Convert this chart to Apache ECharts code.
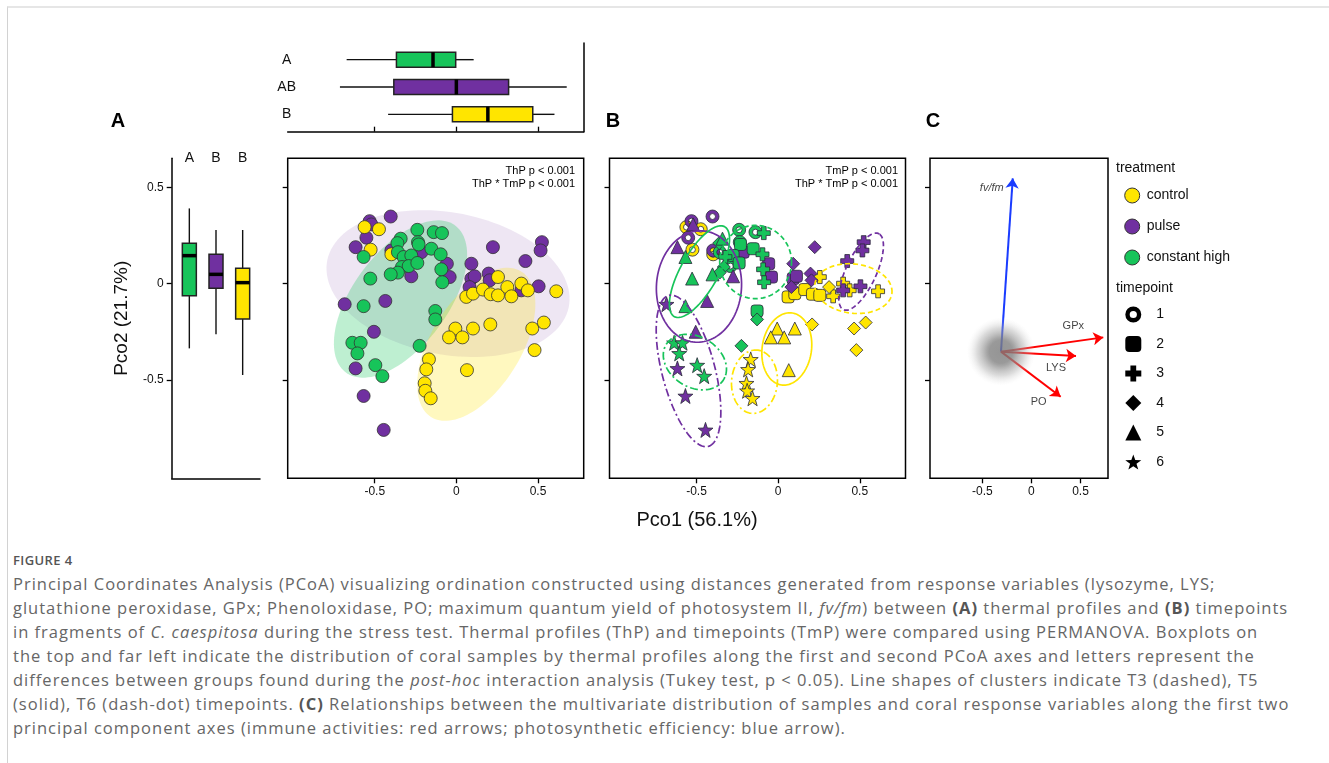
<!DOCTYPE html>
<html>
<head>
<meta charset="utf-8">
<script src="https://cdn.jsdelivr.net/npm/echarts@6/dist/echarts.min.js"></script>
<style>
  html, body { margin: 0; padding: 0; background: #fff; }
  #frame { position: absolute; left: 7px; top: 6px; width: 1340px; height: 780px;
           border-top: 2px solid #e6e6e6; border-left: 1px solid #d2d2d2; }
  #chart { position: absolute; left: 0; top: 0; width: 1329px; height: 545px; }
  #cap { position: absolute; left: 13px; top: 0; font-family: 'Open Sans', sans-serif; color: #666; }
  #cap div { position: absolute; left: 0; white-space: nowrap; }
  #cap .ln { font-size: 16.5px; line-height: 24px; letter-spacing: 1px; }
  #cap .fig { font-size: 13px; line-height: 18px; font-weight: 600; color: #555; letter-spacing: 0.4px; }
  #cap b { color: #555; }
</style>
</head>
<body>
<div id="frame"></div>
<div id="chart"></div>
<div id="cap">
  <div class="fig" style="top:551px">FIGURE 4</div>
  <div class="ln" style="top:572px">Principal Coordinates Analysis (PCoA) visualizing ordination constructed using distances generated from response variables (lysozyme, LYS;</div>
  <div class="ln" style="top:596px">glutathione peroxidase, GPx; Phenoloxidase, PO; maximum quantum yield of photosystem II, <i>fv/fm</i>) between <b>(A)</b> thermal profiles and <b>(B)</b> timepoints</div>
  <div class="ln" style="top:620px">in fragments of <i>C. caespitosa</i> during the stress test. Thermal profiles (ThP) and timepoints (TmP) were compared using PERMANOVA. Boxplots on</div>
  <div class="ln" style="top:644px">the top and far left indicate the distribution of coral samples by thermal profiles along the first and second PCoA axes and letters represent the</div>
  <div class="ln" style="top:668px">differences between groups found during the <i>post-hoc</i> interaction analysis (Tukey test, p &lt; 0.05). Line shapes of clusters indicate T3 (dashed), T5</div>
  <div class="ln" style="top:692px">(solid), T6 (dash-dot) timepoints. <b>(C)</b> Relationships between the multivariate distribution of samples and coral response variables along the first two</div>
  <div class="ln" style="top:716px">principal component axes (immune activities: red arrows; photosynthetic efficiency: blue arrow).</div>
</div>
<script>
// ---- data ----
const treatNames = ['control', 'pulse', 'constant high'];
const timeNames = ['1', '2', '3', '4', '5', '6'];

// [Pco1, Pco2, timepoint]
const controlPts = [
  [-0.562, 0.293, 1], [-0.474, 0.282, 1], [-0.525, 0.176, 1], [-0.398, 0.152, 1],
  [0.255, 0.034, 3], [0.061, -0.069, 2], [0.102, -0.052, 2], [0.163, -0.031, 2], [0.21, -0.055, 2], [0.255, -0.061, 2],
  [0.312, -0.018, 4], [0.337, -0.066, 3], [0.398, 0, 3], [0.438, -0.035, 3], [0.612, -0.04, 3],
  [-0.006, -0.233, 5], [0.102, -0.233, 5], [0.208, -0.212, 4], [-0.045, -0.279, 5], [0.037, -0.279, 5],
  [0.465, -0.233, 4], [0.536, -0.202, 4], [0.479, -0.345, 4],
  [-0.168, -0.393, 6], [-0.184, -0.445, 6], [0.065, -0.449, 5], [-0.194, -0.517, 6], [-0.19, -0.556, 6], [-0.157, -0.595, 6]
];
const pulsePts = [
  [-0.402, 0.348, 1], [-0.531, 0.324, 1], [-0.521, 0.307, 5], [-0.551, 0.238, 1], [-0.617, 0.189, 5],
  [0.224, 0.189, 4], [0.524, 0.215, 3], [0.516, 0.172, 3], [0.423, 0.117, 3], [0.092, 0.103, 4],
  [-0.058, 0.103, 2], [-0.041, 0.034, 2], [-0.276, 0.038, 5], [-0.398, 0.172, 1], [-0.214, 0.163, 2],
  [0.092, 0.026, 2], [0.112, 0.038, 2], [0.198, 0.052, 4], [0.204, 0.017, 4], [0.081, -0.018, 4],
  [0.398, -0.035, 3], [0.504, -0.014, 3], [-0.684, -0.107, 6], [-0.435, -0.09, 5], [-0.505, -0.25, 5],
  [-0.617, -0.44, 6], [-0.568, -0.583, 6], [-0.445, -0.759, 6]
];
const highPts = [
  [-0.239, 0.279, 1], [-0.139, 0.267, 1], [-0.088, 0.262, 3], [-0.341, 0.233, 5], [-0.361, 0.21, 4],
  [-0.235, 0.215, 1], [-0.231, 0.203, 2], [-0.153, 0.181, 2], [-0.096, 0.152, 3], [-0.358, 0.163, 1],
  [-0.323, 0.138, 3], [-0.276, 0.146, 2], [-0.333, 0.086, 4], [-0.292, 0.091, 1], [-0.239, 0.107, 2],
  [-0.568, 0.138, 5], [-0.092, 0.074, 3], [-0.358, 0.057, 4], [-0.402, 0.048, 5], [-0.527, 0.026, 5],
  [-0.086, 0.007, 3], [-0.568, -0.117, 5], [-0.129, -0.142, 2], [-0.129, -0.186, 4], [-0.225, -0.323, 4],
  [-0.637, -0.307, 6], [-0.586, -0.307, 6], [-0.606, -0.362, 6], [-0.496, -0.423, 6], [-0.453, -0.48, 6]
];

// ellipses: [cx, cy, semi-axis a, semi-axis b, angle deg, treatment idx, line type (0 dashed T3, 1 solid T5, 2 dash-dot T6)]
const ellipsesA = [
  [-0.051, 0, 0.75, 0.37, -8, 1, 1],
  [-0.342, -0.08, 0.51, 0.27, 45, 2, 1],
  [0.122, -0.315, 0.47, 0.26, 50, 0, 1]
];
const ellipsesB = [
  [-0.485, -0.015, 0.29, 0.26, 80, 1, 1],
  [-0.482, 0.062, 0.28, 0.11, 55, 2, 1],
  [-0.138, 0.112, 0.22, 0.19, 0, 2, 0],
  [0.508, 0.062, 0.225, 0.09, 60, 1, 0],
  [0.461, -0.026, 0.237, 0.128, -5, 0, 0],
  [0.053, -0.339, 0.19, 0.15, 75, 0, 1],
  [-0.145, -0.509, 0.165, 0.14, 80, 0, 2],
  [-0.51, -0.407, 0.2, 0.135, -20, 2, 2],
  [-0.549, -0.453, 0.41, 0.16, -72, 1, 2]
];

// boxplots, groups: constant high, pulse, control ; [low, q1, median, q3, high]
const boxGroups = [2, 1, 0];
const pco1Stats = [[-0.672, -0.367, -0.143, -0.004, 0.106], [-0.713, -0.383, 0, 0.32, 0.676], [-0.418, -0.024, 0.193, 0.468, 0.601]];
const pco1Letters = ['A', 'AB', 'B'];
const pco2Stats = [[-0.336, -0.063, 0.145, 0.209, 0.39], [-0.263, -0.024, 0.048, 0.152, 0.278], [-0.474, -0.184, 0.005, 0.079, 0.278]];
const pco2Letters = ['A', 'B', 'B'];

// response variable vectors (panel C)
const vecNames = ['fv/fm', 'GPx', 'LYS', 'PO'];
const vecOrigin = [-0.31, -0.353];
const vecEndX = [-0.19, 0.732, 0.454, 0.298];
const vecEndY = [0.546, -0.279, -0.376, -0.587];
const vecKind = ['photo', 'immune', 'immune', 'immune'];

const xTicks = [-0.5, 0, 0.5];
const yTicks = [-0.5, 0, 0.5];

// ---- styles ----
const X_MIN = -1.033, X_MAX = 0.78, Y_MIN = -1.01, Y_MAX = 0.65;
const FONT = '"Liberation Sans", Arial, sans-serif';
const treatColors = ['#FFE500', '#7030A0', '#17C45A'];
const ellipseFills = ['rgba(255,229,0,0.25)', 'rgba(112,48,160,0.12)', 'rgba(23,196,90,0.28)'];
const dashStyles = [[5, 3], null, [8, 3, 2, 3]];
const ringPath = 'path://M0,-10A10,10,0,1,1,0,10A10,10,0,1,1,0,-10ZM0,-4.5A4.5,4.5,0,1,0,0,4.5A4.5,4.5,0,1,0,0,-4.5Z';
const plusPath = 'path://M-3.6,-10H3.6V-3.6H10V3.6H3.6V10H-3.6V3.6H-10V-3.6H-3.6Z';
const starPath = 'path://M0,-10L2.35,-3.24L9.51,-3.09L3.8,1.24L5.88,8.09L0,4L-5.88,8.09L-3.8,1.24L-9.51,-3.09L-2.35,-3.24Z';
const timeSymbols = [ringPath, 'roundRect', plusPath, 'diamond', 'triangle', starPath];
const timeSizes = [13, 12, 13, 13, 13, 15];
const vecLabelOffsets = [[-21, 10], [-30, -11], [-20, 12], [-22, 5]];

const allPts = [controlPts, pulsePts, highPts];

function ellipseRender(filled) {
  return function (params, api) {
    const cx = api.value(0), cy = api.value(1), a = api.value(2), b = api.value(3);
    const ang = api.value(4) * Math.PI / 180, tr = api.value(5), ls = api.value(6);
    const pts = [];
    for (let k = 0; k < 120; k++) {
      const t = k / 120 * Math.PI * 2;
      const ex = a * Math.cos(t), ey = b * Math.sin(t);
      pts.push(api.coord([cx + ex * Math.cos(ang) - ey * Math.sin(ang), cy + ex * Math.sin(ang) + ey * Math.cos(ang)]));
    }
    if (filled) {
      return { type: 'polygon', shape: { points: pts }, style: { fill: ellipseFills[tr], stroke: null } };
    }
    return { type: 'polygon', shape: { points: pts },
      style: { fill: null, stroke: treatColors[tr], lineWidth: 1.7, lineDash: dashStyles[ls] } };
  };
}

function boxRender(horizontal) {
  return function (params, api) {
    const c = api.value(0);
    const p = [1, 2, 3, 4, 5].map(d => horizontal ? api.coord([api.value(d), c]) : api.coord([c, api.value(d)]));
    const col = treatColors[boxGroups[c]];
    const h = horizontal ? 7.5 : 7;
    const line = { stroke: '#111', lineWidth: 1.4 };
    if (horizontal) {
      const y = p[0][1];
      return { type: 'group', children: [
        { type: 'line', shape: { x1: p[0][0], y1: y, x2: p[1][0], y2: y }, style: line },
        { type: 'line', shape: { x1: p[3][0], y1: y, x2: p[4][0], y2: y }, style: line },
        { type: 'rect', shape: { x: p[1][0], y: y - h, width: p[3][0] - p[1][0], height: 2 * h }, style: { fill: col, stroke: '#222', lineWidth: 1.5 } },
        { type: 'line', shape: { x1: p[2][0], y1: y - h, x2: p[2][0], y2: y + h }, style: { stroke: '#000', lineWidth: 3.5 } }
      ] };
    }
    const x = p[0][0];
    return { type: 'group', children: [
      { type: 'line', shape: { x1: x, y1: p[0][1], x2: x, y2: p[1][1] }, style: line },
      { type: 'line', shape: { x1: x, y1: p[3][1], x2: x, y2: p[4][1] }, style: line },
      { type: 'rect', shape: { x: x - h, y: p[3][1], width: 2 * h, height: p[1][1] - p[3][1] }, style: { fill: col, stroke: '#222', lineWidth: 1.5 } },
      { type: 'line', shape: { x1: x - h, y1: p[2][1], x2: x + h, y2: p[2][1] }, style: { stroke: '#000', lineWidth: 3.5 } }
    ] };
  };
}

const hidden = { show: false };
function panelX(grid, labels) {
  return {
    type: 'value', gridIndex: grid, min: X_MIN, max: X_MAX, position: 'bottom',
    axisLine: { show: false, onZero: false },
    axisTick: { show: true, length: 5, customValues: xTicks, lineStyle: { color: '#000', width: 1.3 } },
    axisLabel: { show: labels, customValues: xTicks, fontSize: 12, color: '#111', margin: 7, fontFamily: FONT },
    splitLine: hidden
  };
}
function panelY(grid) {
  return {
    type: 'value', gridIndex: grid, min: Y_MIN, max: Y_MAX,
    axisLine: { show: false, onZero: false },
    axisTick: { show: true, length: 5, customValues: yTicks, lineStyle: { color: '#000', width: 1.3 } },
    axisLabel: { show: false }, splitLine: hidden
  };
}

const frameGrid = { show: true, borderColor: '#000', borderWidth: 1.5, backgroundColor: 'transparent', containLabel: false };

const option = {
  animation: false,
  textStyle: { fontFamily: FONT },
  grid: [
    { left: 287.7, top: 43, width: 296, height: 88.7 },            // 0 top box axes
    { left: 287.7, top: 46, width: 296, height: 82 },              // 1 top boxes
    { left: 171.7, top: 158.3, width: 88.3, height: 320.7 },       // 2 left box axes
    { left: 176, top: 158.3, width: 80, height: 320 },             // 3 left boxes
    Object.assign({ left: 287.7, top: 158.3, width: 296, height: 320 }, frameGrid), // 4 A
    Object.assign({ left: 609.5, top: 158.3, width: 296, height: 320 }, frameGrid), // 5 B
    Object.assign({ left: 930, top: 158.3, width: 178, height: 320 }, frameGrid)    // 6 C
  ],
  xAxis: [
    { type: 'value', gridIndex: 0, min: X_MIN, max: X_MAX, position: 'bottom',
      axisLine: { show: true, onZero: false, lineStyle: { color: '#000', width: 1.5 } },
      axisTick: { show: true, inside: true, length: 5, customValues: xTicks, lineStyle: { color: '#000', width: 1.3 } },
      axisLabel: { show: false }, splitLine: hidden },
    { type: 'value', gridIndex: 1, min: X_MIN, max: X_MAX, show: false },
    { type: 'value', gridIndex: 2, min: 0, max: 1, position: 'bottom',
      axisLine: { show: true, onZero: false, lineStyle: { color: '#000', width: 1.5 } },
      axisTick: { show: false }, axisLabel: { show: false }, splitLine: hidden },
    { type: 'category', gridIndex: 3, data: boxGroups.map(i => treatNames[i]), show: false },
    { type: 'category', gridIndex: 3, data: boxGroups.map(i => treatNames[i]), position: 'top',
      axisLine: { show: false }, axisTick: { show: false },
      axisLabel: { formatter: (v, i) => pco2Letters[i], margin: 0, verticalAlign: 'middle', fontSize: 14, color: '#111' } },
    panelX(4, true),
    panelX(5, true),
    panelX(6, true)
  ],
  yAxis: [
    { type: 'value', gridIndex: 0, min: 0, max: 1, position: 'right',
      axisLine: { show: true, onZero: false, lineStyle: { color: '#000', width: 1.5 } },
      axisTick: { show: false }, axisLabel: { show: false }, splitLine: hidden },
    { type: 'category', gridIndex: 1, data: pco1Letters, inverse: true,
      axisLine: { show: false }, axisTick: { show: false },
      axisLabel: { align: 'center', margin: 1, fontSize: 14, color: '#111' } },
    { type: 'value', gridIndex: 2, show: false },
    { type: 'value', gridIndex: 3, min: Y_MIN, max: Y_MAX, offset: 4.3,
      axisLine: { show: true, onZero: false, lineStyle: { color: '#000', width: 1.5 } },
      axisTick: { show: true, length: 5, customValues: yTicks, lineStyle: { color: '#000', width: 1.3 } },
      axisLabel: { customValues: yTicks, fontSize: 12, color: '#111', margin: 8 },
      splitLine: hidden,
      name: 'Pco2 (21.7%)', nameLocation: 'middle', nameGap: 40, nameRotate: 90,
      nameTextStyle: { fontSize: 19, color: '#111' } },
    panelY(4),
    panelY(5),
    panelY(6)
  ],
  legend: [
    { orient: 'vertical', left: 1124.2, top: 187.5, padding: 0, itemWidth: 15, itemHeight: 15, itemGap: 15,
      selectedMode: false, textStyle: { fontSize: 14, color: '#111', lineHeight: 15, padding: [0, 0, 0, 2] },
      data: [0, 1, 2].map(i => ({ name: treatNames[i], icon: 'circle',
        itemStyle: { color: treatColors[i], borderColor: '#333', borderWidth: 1 } })) },
    { orient: 'vertical', left: 1125.3, top: 306.5, padding: 0, itemWidth: 16, itemHeight: 16, itemGap: 13.5,
      selectedMode: false, textStyle: { fontSize: 14, color: '#111', lineHeight: 16, padding: [0, 0, 0, 10] },
      data: timeNames.map((n, i) => ({ name: n, icon: timeSymbols[i],
        itemStyle: { color: '#000', borderWidth: 0 } })) }
  ],
  graphic: [
    { type: 'text', x: 118, y: 121, style: { text: 'A', fontSize: 20, fontWeight: 'bold', fontFamily: FONT, fill: '#000', align: 'center', verticalAlign: 'middle' } },
    { type: 'text', x: 613, y: 121, style: { text: 'B', fontSize: 20, fontWeight: 'bold', fontFamily: FONT, fill: '#000', align: 'center', verticalAlign: 'middle' } },
    { type: 'text', x: 933, y: 121, style: { text: 'C', fontSize: 20, fontWeight: 'bold', fontFamily: FONT, fill: '#000', align: 'center', verticalAlign: 'middle' } },
    { type: 'text', x: 575, y: 164, style: { text: 'ThP p < 0.001\nThP * TmP p < 0.001', fontSize: 11, lineHeight: 13.5, fontFamily: FONT, fill: '#000', align: 'right', verticalAlign: 'top' } },
    { type: 'text', x: 898, y: 164, style: { text: 'TmP p < 0.001\nThP * TmP p < 0.001', fontSize: 11, lineHeight: 13.5, fontFamily: FONT, fill: '#000', align: 'right', verticalAlign: 'top' } },
    { type: 'text', x: 697, y: 520, style: { text: 'Pco1 (56.1%)', fontSize: 20, fontFamily: FONT, fill: '#111', align: 'center', verticalAlign: 'middle' } },
    { type: 'text', x: 1116, y: 168.5, style: { text: 'treatment', fontSize: 14, fontFamily: FONT, fill: '#111', align: 'left', verticalAlign: 'middle' } },
    { type: 'text', x: 1116, y: 288, style: { text: 'timepoint', fontSize: 14, fontFamily: FONT, fill: '#111', align: 'left', verticalAlign: 'middle' } }
  ],
  series: []
};

// boxplots
option.series.push({ type: 'custom', xAxisIndex: 1, yAxisIndex: 1, encode: { x: 1, y: 0 },
  renderItem: boxRender(true), data: pco1Stats.map((s, i) => [i].concat(s)) });
option.series.push({ type: 'custom', xAxisIndex: 3, yAxisIndex: 3, encode: { x: 0, y: 3 },
  renderItem: boxRender(false), data: pco2Stats.map((s, i) => [i].concat(s)) });

// panel A
option.series.push({ type: 'custom', xAxisIndex: 5, yAxisIndex: 4, renderItem: ellipseRender(true), data: ellipsesA, silent: true });
[1, 0, 2].forEach(tr => {
  option.series.push({ type: 'scatter', name: treatNames[tr], xAxisIndex: 5, yAxisIndex: 4,
    symbol: 'circle', symbolSize: 13,
    itemStyle: { color: treatColors[tr], borderColor: '#333', borderWidth: 0.8, opacity: 1 },
    data: allPts[tr].map(p => [p[0], p[1]]) });
});

// panel B
option.series.push({ type: 'custom', xAxisIndex: 6, yAxisIndex: 5, renderItem: ellipseRender(false), data: ellipsesB, silent: true, z: 3 });
timeNames.forEach((n, ti) => {
  const data = [];
  [0, 1, 2].forEach(tr => allPts[tr].forEach(p => { if (p[2] === ti + 1) data.push([p[0], p[1], tr]); }));
  option.series.push({ type: 'scatter', name: n, xAxisIndex: 6, yAxisIndex: 5,
    symbol: timeSymbols[ti], symbolSize: timeSizes[ti], z: 2,
    itemStyle: { color: p => treatColors[p.value[2]], borderColor: '#2a2a3a', borderWidth: 0.8, opacity: 1 },
    data: data });
});

// panel C
option.series.push({ type: 'lines', coordinateSystem: 'cartesian2d', xAxisIndex: 7, yAxisIndex: 6,
  symbol: ['none', 'arrow'], symbolSize: 10, silent: true, z: 2,
  lineStyle: { width: 2, opacity: 1 },
  data: vecNames.map((n, i) => ({ coords: [vecOrigin, [vecEndX[i], vecEndY[i]]],
    lineStyle: { color: vecKind[i] === 'photo' ? '#1a3cff' : '#ff0000' } })) });
option.series.push({ type: 'scatter', xAxisIndex: 7, yAxisIndex: 6, symbolSize: 68, z: 5, silent: true,
  itemStyle: { color: { type: 'radial', x: 0.5, y: 0.5, r: 0.5, colorStops: [
    { offset: 0, color: 'rgba(122,122,122,1)' }, { offset: 0.34, color: 'rgba(128,128,128,1)' },
    { offset: 0.42, color: 'rgba(136,136,136,0.92)' }, { offset: 0.7, color: 'rgba(165,165,165,0.5)' },
    { offset: 1, color: 'rgba(225,225,225,0)' }] } },
  data: [vecOrigin] });
option.series.push({ type: 'scatter', xAxisIndex: 7, yAxisIndex: 6, symbolSize: 0.1, z: 6, silent: true,
  itemStyle: { color: 'transparent' },
  label: { show: true, position: 'inside', fontSize: 11, color: '#111', formatter: p => p.name },
  data: vecNames.map((n, i) => ({ name: n, value: [vecEndX[i], vecEndY[i]],
    label: { offset: vecLabelOffsets[i], fontStyle: i === 0 ? 'italic' : 'normal' } })) });

const chart = echarts.init(document.getElementById('chart'), null, { renderer: 'canvas' });
chart.setOption(option);
</script>
</body>
</html>
